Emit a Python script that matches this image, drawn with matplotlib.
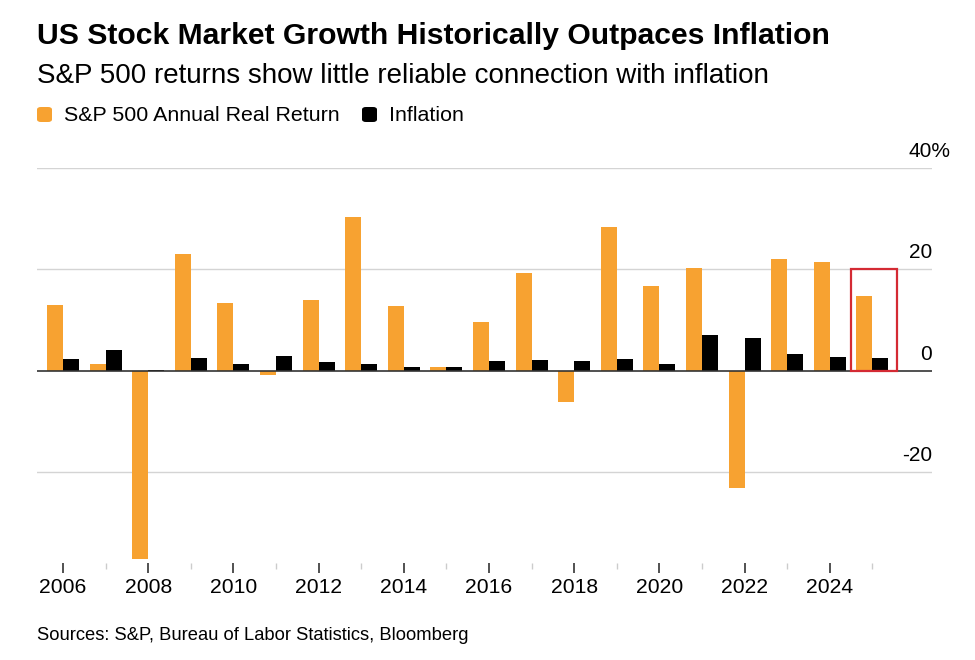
import matplotlib.pyplot as plt
from matplotlib.patches import Rectangle, FancyBboxPatch
import matplotlib.transforms as mtransforms

years = list(range(2006, 2026))
sp500_real = [12.9, 1.3, -37.0, 23.0, 13.3, -0.9, 14.0, 30.3, 12.7, 0.7,
              9.6, 19.3, -6.2, 28.4, 16.6, 20.2, -23.2, 22.0, 21.4, 14.7]
inflation = [2.4, 4.1, 0.1, 2.6, 1.4, 2.9, 1.7, 1.4, 0.8, 0.7,
             2.0, 2.1, 1.9, 2.3, 1.4, 7.0, 6.5, 3.3, 2.8, 2.6]
y_ticks = [40, 20, 0, -20]
y_labels = ['40%', '20', '0', '-20']
major_years = list(range(2006, 2026, 2))
minor_years = list(range(2007, 2026, 2))

plt.rcParams['font.family'] = ['Liberation Sans', 'DejaVu Sans']

orange = '#F7A231'
W, H = 975, 660
fig = plt.figure(figsize=(W / 100, H / 100), dpi=100)

# axes area in pixels
left_px, right_px = 37, 932
top_px, bottom_px = 167.7, 562.6
ax = fig.add_axes([left_px / W, 1 - bottom_px / H,
                   (right_px - left_px) / W, (bottom_px - top_px) / H])

bw = 0.375
xs = years
ax.bar([x - bw / 2 for x in xs], sp500_real, width=bw, color=orange, zorder=3)
ax.bar([x + bw / 2 for x in xs], inflation, width=bw, color='black', zorder=3)

ax.set_xlim(2005.39, 2026.4)
ax.set_ylim(-37.8, 40)

for y in y_ticks:
    if y == 0:
        ax.axhline(0, color='#333333', lw=1.2, zorder=4)
    else:
        ax.axhline(y, color='#d4d4d4', lw=1.0, zorder=1)

# y labels at right, sitting above the gridlines; numbers right-aligned, % hangs past the edge
off = mtransforms.offset_copy(ax.get_yaxis_transform(), fig=fig, x=0, y=8, units='points')
fig.canvas.draw()
renderer = fig.canvas.get_renderer()
for y, lab in zip(y_ticks, y_labels):
    if lab.endswith('%'):
        probe = ax.text(1.0, y, '%', transform=off, fontsize=15)
        pct_w = probe.get_window_extent(renderer).width
        probe.remove()
        shift = mtransforms.offset_copy(off, fig=fig, x=pct_w, y=0, units='dots')
        ax.text(1.0, y, lab, transform=shift, ha='right', va='baseline', fontsize=15)
    else:
        ax.text(1.0, y, lab, transform=off, ha='right', va='baseline', fontsize=15)

for s in ax.spines.values():
    s.set_visible(False)
ax.set_yticks([])
ax.set_xticks(major_years)
ax.set_xticklabels([str(y) for y in major_years], fontsize=15.2)
ax.set_xticks(minor_years, minor=True)
ax.tick_params(axis='x', which='major', length=7, width=1.2, color='#333333', pad=4)
ax.tick_params(axis='x', which='minor', length=4, width=1.0, color='#cccccc')

# highlight box on latest year
ax.add_patch(Rectangle((2024.5, 0), 1.08, 20, fill=False, edgecolor='#d42a33',
                       lw=1.6, zorder=5))

# titles
fig.text(37 / W, 1 - 44 / H, 'US Stock Market Growth Historically Outpaces Inflation',
         fontsize=21.7, fontweight='bold', ha='left', va='baseline')
fig.text(37 / W, 1 - 83 / H, 'S&P 500 returns show little reliable connection with inflation',
         fontsize=20, ha='left', va='baseline')

# legend
def legend_item(x_px, color, label):
    fig.patches.append(FancyBboxPatch(((x_px) / W, 1 - 122 / H), 15 / W, 15 / H,
                                      boxstyle='round,pad=0,rounding_size=0.004',
                                      transform=fig.transFigure, facecolor=color,
                                      edgecolor='none'))
    fig.text((x_px + 27) / W, 1 - 121 / H, label, fontsize=15.4, ha='left', va='baseline')

legend_item(37, orange, 'S&P 500 Annual Real Return')
legend_item(362, 'black', 'Inflation')

fig.text(37 / W, 1 - 640 / H, 'Sources: S&P, Bureau of Labor Statistics, Bloomberg',
         fontsize=13.2, ha='left', va='baseline')

fig.savefig('out.png', dpi=100)
